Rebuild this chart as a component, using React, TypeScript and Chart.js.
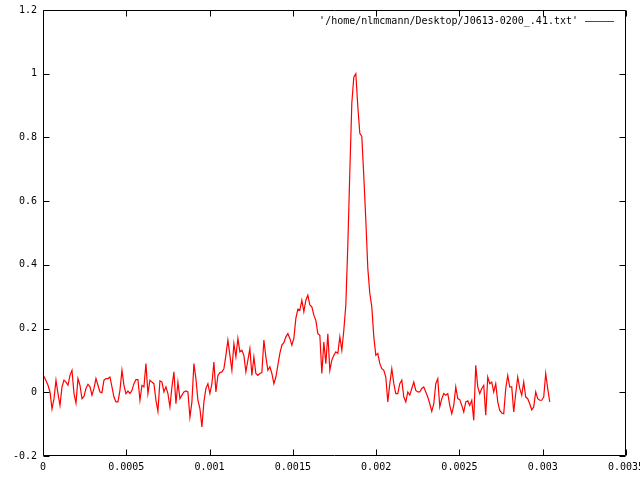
import React, { useEffect, useRef } from "react";
import { Chart, registerables } from "chart.js";

Chart.register(...registerables);

const seriesLabel = "'/home/nlmcmann/Desktop/J0613-0200_.41.txt'";

// phase-bin width in seconds (regular sampling grid of the profile)
const binWidth = 0.000012;

// intensity per bin
const intensity: number[] = [
  0.050, 0.036, 0.022, 0.001, -0.052, -0.020, 0.038, -0.004, -0.041, 0.017,
  0.038, 0.032, 0.022, 0.053, 0.069, -0.004, -0.034, 0.043, 0.022, -0.020,
  -0.013, 0.012, 0.025, 0.017, -0.009, 0.012, 0.043, 0.022, 0.001, -0.001,
  0.038, 0.043, 0.043, 0.048, 0.017, -0.015, -0.030, -0.030, 0.006, 0.069,
  0.022, -0.004, 0.004, -0.004,
  0.006, 0.027, 0.040, 0.040, -0.025, 0.022, 0.017, 0.090, -0.004, 0.038,
  0.032, 0.027, -0.025, -0.060, 0.036, 0.032, 0.001, 0.017, -0.004, -0.046,
  0.017, 0.064, -0.036, 0.032, -0.020, -0.009, 0.001, 0.004, 0.001, -0.078,
  -0.030, 0.090, 0.043, -0.025, -0.051, -0.109, -0.030, 0.012, 0.027, -0.004,
  0.027, 0.095,
  0.001, 0.053, 0.062, 0.064, 0.074, 0.116, 0.164, 0.116, 0.069, 0.153,
  0.111, 0.169, 0.127, 0.132, 0.116, 0.064, 0.101, 0.137, 0.053, 0.111,
  0.059, 0.053, 0.059, 0.062, 0.164, 0.111, 0.069, 0.080, 0.059, 0.027,
  0.048, 0.085, 0.122, 0.148, 0.156, 0.174, 0.184, 0.169, 0.148, 0.169,
  0.232, 0.261, 0.258,
  0.289, 0.253, 0.289, 0.305, 0.274, 0.268, 0.242, 0.226, 0.184, 0.179,
  0.059, 0.158, 0.090, 0.184, 0.069, 0.101, 0.116, 0.127, 0.122, 0.174,
  0.132, 0.195, 0.274,
  0.462, 0.693, 0.908, 0.990, 1.000, 0.897, 0.813, 0.803, 0.677, 0.541,
  0.389, 0.310, 0.268, 0.174, 0.116, 0.122, 0.090, 0.074, 0.069, 0.048,
  -0.030,
  0.027, 0.074, 0.027, -0.004, -0.004, 0.027, 0.038, -0.015, -0.030, 0.001,
  -0.009, 0.012, 0.032, 0.006, 0.001, 0.001, 0.012, 0.017, 0.001, -0.015,
  -0.036, -0.060, -0.036, 0.027, 0.043, -0.046, -0.020, -0.004, -0.009, -0.004,
  -0.041, -0.067, -0.041, 0.017, -0.020, -0.023, -0.041, -0.062,
  -0.030, -0.027, -0.041, -0.025, -0.088, 0.085, 0.017, -0.004, 0.012, 0.022,
  -0.072, 0.048, 0.027, 0.032, 0.001, 0.027, -0.030, -0.057, -0.065, -0.067,
  0.012, 0.053, 0.017, 0.017, -0.062, -0.004, 0.048, 0.012, -0.009, 0.032,
  -0.015, -0.020, -0.036, -0.055, -0.046, 0.001, -0.020, -0.025, -0.025, -0.015,
  0.059, 0.012, -0.030,
];

const xTicks = [0, 0.0005, 0.001, 0.0015, 0.002, 0.0025, 0.003, 0.0035];
const xTickLabels = ["0", "0.0005", "0.001", "0.0015", "0.002", "0.0025", "0.003", "0.0035"];
const yTicks = [-0.2, 0, 0.2, 0.4, 0.6, 0.8, 1, 1.2];
const yTickLabels = ["-0.2", "0", "0.2", "0.4", "0.6", "0.8", "1", "1.2"];

const FONT = "'DejaVu Sans Mono', 'Liberation Mono', monospace";

const framePlugin = {
  id: "gnuplotFrame",
  afterDraw(chart: any) {
    const { ctx, chartArea } = chart;
    const { left, right, top, bottom } = chartArea;
    const xs = chart.scales.x;
    const ys = chart.scales.y;
    const L = Math.round(left) + 0.5;
    const R = Math.round(right) - 0.5;
    const T = Math.round(top) + 0.5;
    const B = Math.round(bottom) - 0.5;
    const tl = 6;
    ctx.save();
    ctx.strokeStyle = "#000000";
    ctx.lineWidth = 1;
    ctx.beginPath();
    ctx.rect(L, T, R - L, B - T);
    for (const v of xTicks) {
      const px = Math.round(xs.getPixelForValue(v)) + 0.5;
      ctx.moveTo(px, B);
      ctx.lineTo(px, B - tl);
      ctx.moveTo(px, T);
      ctx.lineTo(px, T + tl);
    }
    for (const v of yTicks) {
      const py = Math.round(ys.getPixelForValue(v)) + 0.5;
      ctx.moveTo(L, py);
      ctx.lineTo(L + tl, py);
      ctx.moveTo(R, py);
      ctx.lineTo(R - tl, py);
    }
    ctx.stroke();

    // key (legend) in the top-right corner, gnuplot style
    const label = chart.data.datasets[0].label;
    const color = chart.data.datasets[0].borderColor;
    ctx.font = "10px " + FONT;
    ctx.fillStyle = "#000000";
    ctx.textAlign = "right";
    ctx.textBaseline = "middle";
    ctx.fillText(label, 578, 21);
    ctx.fillStyle = color;
    ctx.fillRect(585, 21, 29, 1);
    ctx.restore();
  },
};

export default function App() {
  const ref = useRef<HTMLCanvasElement | null>(null);

  useEffect(() => {
    if (!ref.current) return;
    const points = intensity.map((v, i) => ({ x: (i + 0.5) * binWidth, y: v }));
    const chart = new Chart(ref.current, {
      type: "line",
      data: {
        datasets: [
          {
            label: seriesLabel,
            data: points,
            borderColor: "#ff0000",
            borderWidth: 1.2,
            pointRadius: 0,
            fill: false,
            tension: 0,
          },
        ],
      },
      options: {
        responsive: false,
        animation: false,
        events: [],
        layout: { padding: { top: 10, right: 14, left: 0, bottom: 0 } },
        plugins: {
          legend: { display: false },
          tooltip: { enabled: false },
          title: { display: false },
        },
        scales: {
          x: {
            type: "linear",
            min: 0,
            max: 0.0035,
            grid: { display: false, drawTicks: false },
            border: { display: false },
            afterBuildTicks: (s: any) => {
              s.ticks = xTicks.map((v) => ({ value: v }));
            },
            afterFit: (s: any) => {
              s.height = 24;
              s.paddingLeft = 0;
              s.paddingRight = 0;
            },
            ticks: {
              autoSkip: false,
              maxRotation: 0,
              minRotation: 0,
              padding: 5,
              color: "#000000",
              font: { family: FONT, size: 10 },
              callback: (v: any) => xTickLabels[xTicks.indexOf(Number(v))] ?? "",
            },
          },
          y: {
            type: "linear",
            min: -0.2,
            max: 1.2,
            grid: { display: false, drawTicks: false },
            border: { display: false },
            afterBuildTicks: (s: any) => {
              s.ticks = yTicks.map((v) => ({ value: v }));
            },
            afterFit: (s: any) => {
              s.width = 43;
              s.paddingTop = 0;
              s.paddingBottom = 0;
            },
            ticks: {
              autoSkip: false,
              padding: 6,
              color: "#000000",
              font: { family: FONT, size: 10 },
              callback: (v: any) => yTickLabels[yTicks.indexOf(Number(v))] ?? "",
            },
          },
        },
      },
      plugins: [framePlugin],
    });
    return () => chart.destroy();
  }, []);

  return (
    <div style={{ position: "absolute", left: 0, top: 0, width: 640, height: 480, background: "#ffffff" }}>
      <canvas ref={ref} width={640} height={480} style={{ display: "block" }} />
    </div>
  );
}
